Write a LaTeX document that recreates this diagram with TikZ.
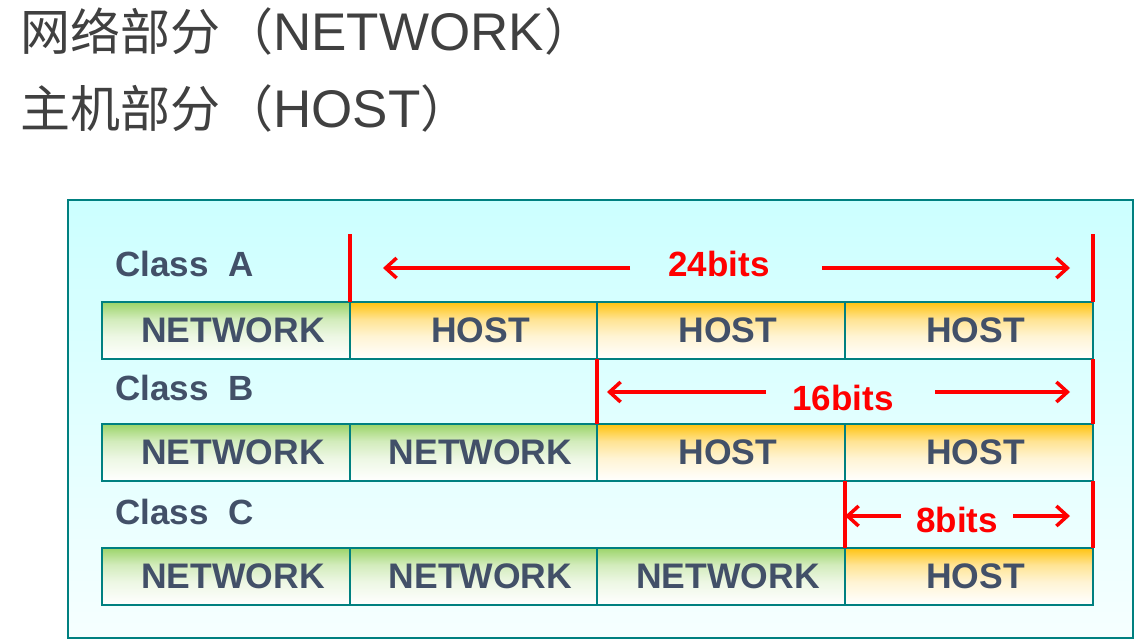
\documentclass[tikz,border=0pt]{standalone}
\usepackage{fontspec}
\setmainfont{Liberation Sans}
\newfontfamily\cjk{Noto Sans CJK SC}
\usetikzlibrary{arrows.meta}
\definecolor{frameteal}{HTML}{008080}
\definecolor{celltext}{HTML}{425068}
\definecolor{titlegray}{HTML}{404040}
\definecolor{netgreen}{HTML}{9BD468}
\definecolor{hostorange}{HTML}{FFC20E}
\definecolor{bgtop}{HTML}{CCFFFF}
\definecolor{bgbot}{HTML}{F6FFFF}
\definecolor{bitred}{HTML}{FF0000}
\pgfdeclareverticalshading{netshade}{100bp}{color(0bp)=(white); color(25bp)=(white);
  color(45bp)=(netgreen!18!white); color(60bp)=(netgreen!45!white); color(75bp)=(netgreen); color(100bp)=(netgreen)}
\pgfdeclareverticalshading{hostshade}{100bp}{color(0bp)=(white); color(25bp)=(white);
  color(45bp)=(hostorange!18!white); color(60bp)=(hostorange!45!white); color(75bp)=(hostorange); color(100bp)=(hostorange)}
\tikzset{
  cellbox/.style={draw=frameteal, line width=2pt, minimum width=248pt, minimum height=57pt,
     inner sep=0pt, outer sep=0pt, text=celltext, font=\fontsize{35.5}{40}\selectfont\bfseries},
  netcell/.style={cellbox, shading=netshade},
  hostcell/.style={cellbox, shading=hostshade},
  classlbl/.style={anchor=base west, inner sep=0pt, text=celltext, font=\fontsize{35}{40}\selectfont\bfseries},
  bitlbl/.style={text=bitred, font=\fontsize{35}{40}\selectfont\bfseries, inner sep=0pt},
  redbar/.style={draw=bitred, line width=4pt},
  redarrow/.style={draw=bitred, line width=3.5pt, -{Straight Barb[length=11pt,width=20pt]}},
  titletext/.style={anchor=base west, text=titlegray, inner sep=0pt, font=\fontsize{50}{60}\selectfont}
}
\begin{document}
\begin{tikzpicture}[x=1pt,y=-1pt]
\useasboundingbox (0,0) rectangle (1136,641);
% titles
\node[titletext] (t1) at (20,50) {{\cjk 网络部分\kern3pt（}{\fontsize{53}{60}\selectfont NETWORK}{\cjk ）}};
\node[titletext] (t2) at (20,127) {{\cjk 主机部分\kern3pt（}{\fontsize{53}{60}\selectfont HOST}{\cjk ）}};
% frame
\node[draw=frameteal, line width=2pt, top color=bgtop, bottom color=bgbot,
      minimum width=1065pt, minimum height=438pt, inner sep=0pt] (frame) at (600.5,419) {};
% Class A
\node[classlbl] (la) at (115,276) {Class\ \ A};
\node[netcell]  (a1) at (226,330.5)   {\hspace*{14pt}NETWORK};
\node[hostcell] (a2) at (473.5,330.5) {\hspace*{14pt}HOST};
\node[hostcell] (a3) at (721,330.5)   {\hspace*{14pt}HOST};
\node[hostcell] (a4) at (968.5,330.5) {\hspace*{14pt}HOST};
% Class B
\node[classlbl] (lb) at (115,400) {Class\ \ B};
\node[netcell]  (b1) at (226,452.5)   {\hspace*{14pt}NETWORK};
\node[netcell]  (b2) at (473.5,452.5) {\hspace*{14pt}NETWORK};
\node[hostcell] (b3) at (721,452.5)   {\hspace*{14pt}HOST};
\node[hostcell] (b4) at (968.5,452.5) {\hspace*{14pt}HOST};
% Class C
\node[classlbl] (lc) at (115,524) {Class\ \ C};
\node[netcell]  (c1) at (226,576)   {\hspace*{14pt}NETWORK};
\node[netcell]  (c2) at (473.5,576) {\hspace*{14pt}NETWORK};
\node[netcell]  (c3) at (721,576)   {\hspace*{14pt}NETWORK};
\node[hostcell] (c4) at (968.5,576) {\hspace*{14pt}HOST};
% bit ranges: Class A
\coordinate (aL) at (a2.north west |- 0,234);
\coordinate (aR) at (a4.north east |- 0,234);
\draw[redbar] (aL) -- (a2.north west);
\draw[redbar] (aR) -- (a4.north east);
\node[bitlbl] (bitsA) at (719,264) {24bits};
\coordinate (aLs) at (630,268); \coordinate (aLe) at (383,268);
\coordinate (aRs) at (822,268); \coordinate (aRe) at (1070,268);
\draw[redarrow] (aLs) -- (aLe);
\draw[redarrow] (aRs) -- (aRe);
% Class B
\draw[redbar] (a3.south west) -- (b3.north west);
\draw[redbar] (a4.south east) -- (b4.north east);
\node[bitlbl] (bitsB) at (843,398) {16bits};
\coordinate (bLs) at (766,392); \coordinate (bLe) at (607,392);
\coordinate (bRs) at (935,392); \coordinate (bRe) at (1070,392);
\draw[redarrow] (bLs) -- (bLe);
\draw[redarrow] (bRs) -- (bRe);
% Class C
\draw[redbar] (b4.south west) -- (c4.north west);
\draw[redbar] (b4.south east) -- (c4.north east);
\node[bitlbl] (bitsC) at (957,520) {8bits};
\coordinate (cLs) at (901,516); \coordinate (cLe) at (845,516);
\coordinate (cRs) at (1013,516); \coordinate (cRe) at (1070,516);
\draw[redarrow] (cLs) -- (cLe);
\draw[redarrow] (cRs) -- (cRe);
\end{tikzpicture}
\end{document}
